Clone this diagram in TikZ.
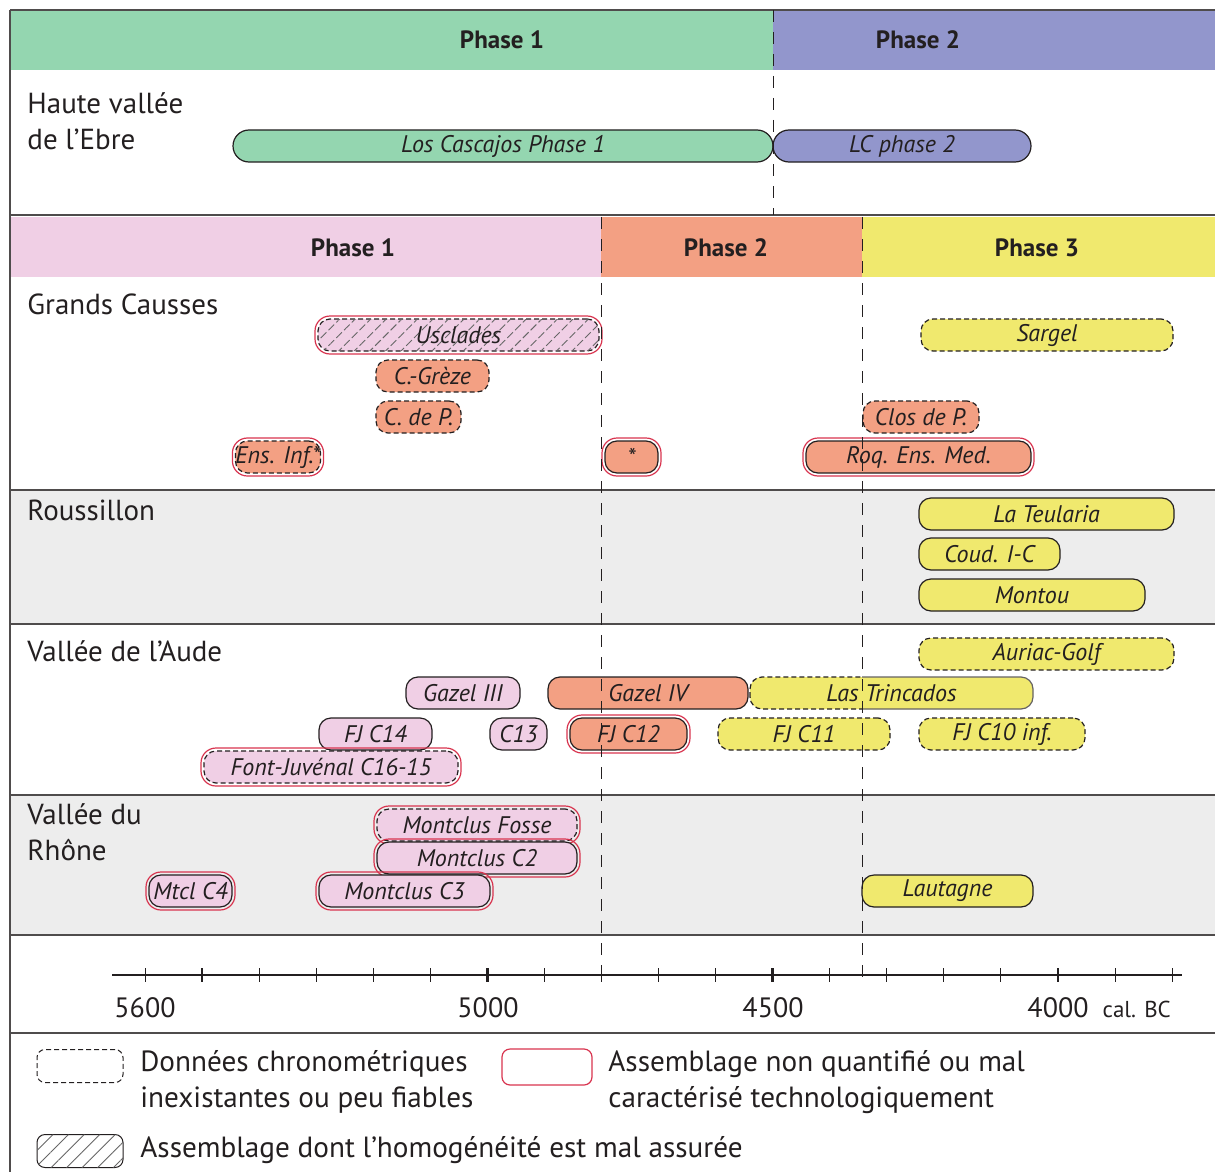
\documentclass[tikz,border=0pt]{standalone}
\usepackage{fontspec}
\setmainfont{PT Sans}
\usepackage{xcolor}
\usepackage{tikz}
\usetikzlibrary{calc,positioning,patterns,patterns.meta}
\definecolor{vert}{HTML}{94D6B0}
\definecolor{mauve}{HTML}{9296CC}
\definecolor{rose}{HTML}{F0CFE5}
\definecolor{saumon}{HTML}{F3A083}
\definecolor{jaune}{HTML}{F0E96E}
\definecolor{gris}{HTML}{EDEDED}
\definecolor{rouge}{HTML}{D8344F}
\definecolor{encre}{HTML}{231F20}

\begin{document}
\begin{tikzpicture}[x=0.5pt, y=-0.5pt,
  hd/.style={font=\fontsize{12.5}{14}\selectfont\bfseries, text=encre},
  reg/.style={font=\fontsize{14.5}{18}\selectfont, align=left, anchor=north west, inner sep=0pt, text=encre},
  bar/.style={draw=encre, fill=#1, rounded corners=6pt, minimum height=16pt, inner sep=0pt, outer sep=0pt,
    line width=0.6pt, font=\fontsize{12}{14}\selectfont\itshape, text=encre},
  sl/.style={},
  pl/.style={rounded corners=8pt},
  tr/.style={draw=none},
  ds/.style={dash pattern=on 2.5pt off 1.5pt},
  dh/.style={ds, postaction={pattern={Lines[angle=45,distance=5.5pt,line width=0.45pt]}, pattern color=black!60}},
  ring/.style={draw=rouge, line width=0.6pt, rounded corners=7.5pt},
  lim/.style={encre, line width=0.5pt, dash pattern=on 6pt off 5pt},
  sep/.style={encre!80, line width=0.7pt},
  ax/.style={font=\fontsize{14}{16}\selectfont, text=encre},
  leg/.style={font=\fontsize{14.6}{18}\selectfont, align=left, anchor=north west, inner sep=0pt, text=encre}
]
\useasboundingbox (0,0) rectangle (1215,1172);
\fill[vert] (10,10) rectangle (773,70);
\fill[mauve] (773,10) rectangle (1215,70);
\fill[rose] (10,217) rectangle (601,277);
\fill[saumon] (601,217) rectangle (862,277);
\fill[jaune] (862,217) rectangle (1215,277);
\fill[gris] (10,490) rectangle (1215,624);
\fill[gris] (10,795) rectangle (1215,935);
\foreach \yy in {10,215,490,624,795,935,1033}
  \draw[sep] (10,\yy) -- (1215,\yy);
\draw[sep] (10,10) -- (10,1172);

\node[hd] (ebP1) at (502,40) {Phase 1};
\node[hd] (ebP2) at (918,40) {Phase 2};
\node[hd] (gcP1) at (353,248) {Phase 1};
\node[hd] (gcP2) at (726,248) {Phase 2};
\node[hd] (gcP3) at (1037,248) {Phase 3};

\node[reg] (hve) at (27,92) {Haute vallée\\de l’Ebre};
\node[reg] (gca) at (27,293) {Grands Causses};
\node[reg] (rou) at (27,500) {Roussillon};
\node[reg] (vau) at (27,640) {Vallée de l’Aude};
\node[reg] (vrh) at (27,803) {Vallée du\\Rhône};

\foreach \nm/\xa/\xb/\yy/\cl/\st/\rd/\tx in {
  ebA/233/773/146/vert/pl/0/Los Cascajos Phase 1,
  ebB/773/1031/146/mauve/pl/0/LC phase 2,
  usc/318/599/335/rose/dh/1/Usclades,
  sar/921/1173/335/jaune/ds/0/Sargel,
  cgr/376/489/376/saumon/ds/0/C.-Grèze,
  cdp/376/461/417/saumon/ds/0/C. de P.,
  clo/863/979/417/saumon/ds/0/Clos de P.,
  ein/236/320/457/saumon/ds/1/Ens. Inf.*,
  ast/605/658/457/saumon/sl/1/*,
  roq/806/1031/457/saumon/sl/1/Roq. Ens. Med.,
  teu/919/1174/514/jaune/sl/0/La Teularia,
  cou/919/1060/554/jaune/sl/0/Coud. I-C,
  mon/919/1145/595/jaune/sl/0/Montou,
  aur/919/1174/654/jaune/ds/0/Auriac-Golf,
  gz3/406/520/693/rose/sl/0/Gazel III,
  gz4/548/748/693/saumon/sl/0/Gazel IV,
  tri/750/1033/693/jaune/tr/0/Las Trincados,
  c14/319/432/734/rose/sl/0/FJ C14,
  c13/490/547/734/rose/sl/0/C13,
  c12/570/687/734/saumon/sl/1/FJ C12,
  c11/718/890/734/jaune/ds/0/FJ C11,
  c10/919/1085/734/jaune/ds/0/FJ C10 inf.,
  fjv/204/458/767/rose/ds/1/Font-Juvénal C16-15,
  mfo/377/577/825/rose/ds/1/Montclus Fosse,
  mc2/377/577/858/rose/sl/1/Montclus C2,
  mc4/149/232/891/rose/sl/1/Mtcl C4,
  mc3/319/490/891/rose/sl/1/Montclus C3,
  lau/862/1033/891/jaune/sl/0/Lautagne} {
  \pgfmathsetmacro\bw{(\xb-\xa)/2}
  \node[bar=\cl, \st, minimum width=\bw pt] (\nm) at ({(\xa+\xb)/2},\yy) {\tx};
  \ifnum\rd=1
    \draw[ring] ([shift={(-3,3)}]\nm.south west) rectangle ([shift={(3,-3)}]\nm.north east);
  \fi
}
\begin{scope}
  \clip (740,660) rectangle (862,720);
  \draw[encre, ds, line width=0.6pt, rounded corners=6pt] (tri.south west) rectangle (tri.north east);
\end{scope}
\begin{scope}
  \clip (862,660) rectangle (1045,720);
  \draw[encre!70, line width=0.6pt, rounded corners=6pt] (tri.south west) rectangle (tri.north east);
\end{scope}

\draw[lim] (773,10) -- (773,215);
\draw[lim] (601,217) -- (601,985);
\draw[lim] (862,217) -- (862,985);

\draw[encre, line width=0.6pt] (112,975) -- (1182,975);
\foreach \i in {0,...,18} {
  \pgfmathsetmacro\xt{145+57.06*\i}
  \pgfmathsetmacro\lw{mod(\i,5)==1 ? 1.2 : 0.5}
  \draw[encre, line width=\lw pt] (\xt,968) -- (\xt,982);
}
\foreach \yr/\px in {5600/145,5000/488,4500/773,4000/1058}
  \node[ax] (y\yr) at (\px,1008) {\yr};
\node[font=\fontsize{11.5}{13}\selectfont, text=encre, anchor=base west] (unit) at ([xshift=0pt]y4000.base east) {cal. BC};

\node[draw=encre, ds, rounded corners=4pt, minimum width=43pt, minimum height=16.5pt, line width=0.5pt] (lgA) at (80,1066) {};
\node[draw=rouge, rounded corners=4pt, minimum width=45pt, minimum height=18pt, line width=0.6pt] (lgB) at (547,1067) {};
\node[draw=encre, dh, dash pattern=, rounded corners=4pt, minimum width=43pt, minimum height=16.5pt, line width=0.5pt] (lgC) at (80,1151) {};
\node[leg] (txA) at (140,1050) {Données chronométriques\\inexistantes ou peu fiables};
\node[leg] (txB) at (608,1050) {Assemblage non quantifié ou mal\\caractérisé technologiquement};
\node[leg] (txC) at (140,1136) {Assemblage dont l’homogénéité est mal assurée};
\end{tikzpicture}
\end{document}
